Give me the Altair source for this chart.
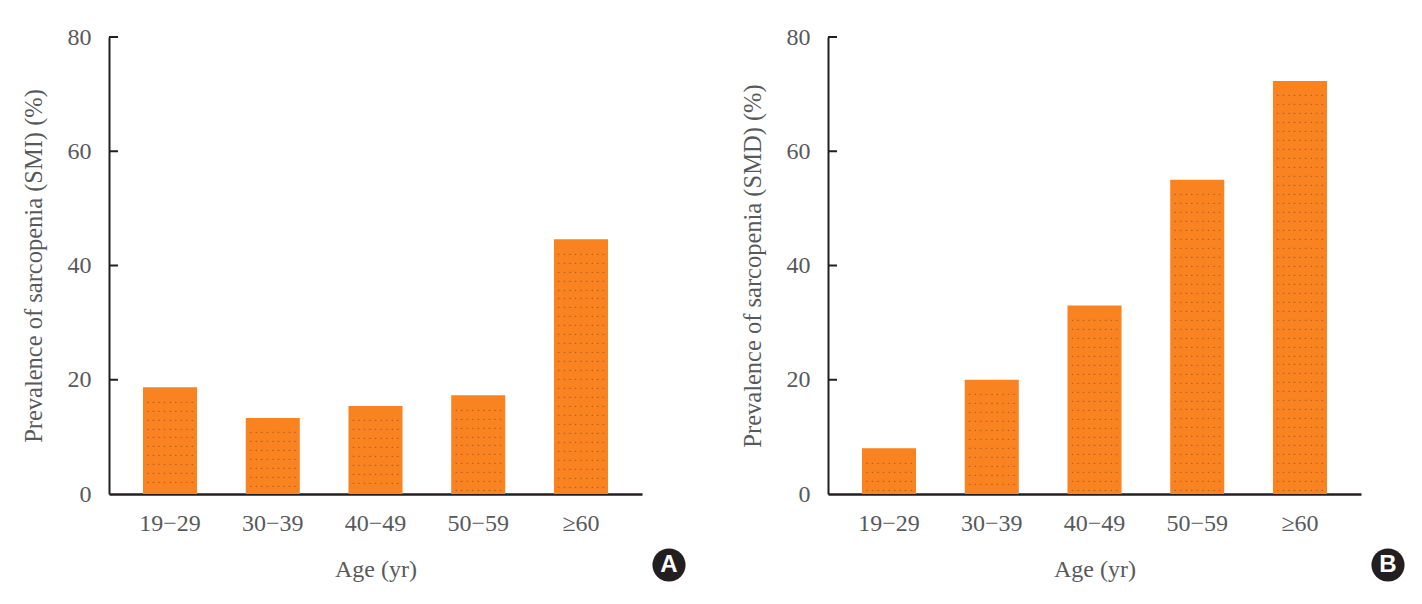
import altair as alt
import pandas as pd

ages = ["19−29", "30−39", "40−49", "50−59", "≥60"]
smi = [18.7, 13.3, 15.4, 17.3, 44.6]
smd = [8.0, 20.0, 33.0, 55.0, 72.3]
y_ticks = [0, 20, 40, 60, 80]
FONT = "Liberation Serif"
TXT = "#58595b"
ORANGE = "#f98321"
DOT_ROW = " ".join(["."] * 9)
W, H = 533, 457


def panel(values, ytitle, letter):
    df = pd.DataFrame({"age": ages, "v": values})
    x = alt.X("age:N", sort=ages, title="Age (yr)",
              scale=alt.Scale(paddingInner=0.474, paddingOuter=0.331),
              axis=alt.Axis(labelAngle=0, ticks=False, domainColor="#231f20", domainWidth=2.5,
                            labelFont=FONT, labelFontSize=24, labelColor=TXT, labelPadding=17,
                            titleFont=FONT, titleFontSize=24, titleColor=TXT, titleFontWeight="normal",
                            titlePadding=22))
    y = alt.Y("v:Q", title=ytitle, scale=alt.Scale(domain=[0, 80]),
              axis=alt.Axis(values=y_ticks, ticks=False, grid=False, domainColor="#231f20", domainWidth=2,
                            labelFont=FONT, labelFontSize=24, labelColor=TXT, labelPadding=18,
                            titleFont=FONT, titleFontSize=24.5, titleColor=TXT, titleFontWeight="normal",
                            titlePadding=21))
    bars = alt.Chart(df).mark_bar(color=ORANGE).encode(x=x, y=y)
    stip = pd.DataFrame([
        {"age": a, "s": s, "d": DOT_ROW}
        for a, v in zip(ages, values)
        for s in [v - 2.7 - 1.57 * i for i in range(60) if v - 2.7 - 1.57 * i > 0.3]
    ])
    dots = alt.Chart(stip).mark_text(font="Liberation Sans", fontSize=10, color="#8f3f2a", opacity=0.8,
                                     baseline="alphabetic").encode(
        x=alt.X("age:N", sort=ages), y=alt.Y("s:Q"), text="d:N")
    tk = alt.Chart(pd.DataFrame({"t": y_ticks[1:]})).mark_rule(color="#231f20", strokeWidth=2).encode(
        x=alt.value(0), x2=alt.value(9), y=alt.Y("t:Q"))
    badge = alt.Chart(pd.DataFrame({"l": [letter]})).mark_point(
        filled=True, size=1100, color="#231f20", opacity=1, clip=False).encode(
        x=alt.value(560), y=alt.value(528))
    lab = alt.Chart(pd.DataFrame({"l": [letter]})).mark_text(
        font="Liberation Sans", fontWeight="bold", fontSize=24, color="white", clip=False).encode(
        x=alt.value(560), y=alt.value(528), text="l:N")
    return alt.layer(bars, dots, tk, badge, lab).properties(width=W, height=H)


chart = alt.hconcat(
    panel(smi, "Prevalence of sarcopenia (SMI) (%)", "A"),
    panel(smd, "Prevalence of sarcopenia (SMD) (%)", "B"),
    spacing=54,
).properties(
    background="white",
    padding={"left": 13, "top": 17, "right": 5, "bottom": 5},
).configure_view(stroke=None)
chart.save("out.html", embed_options={"renderer": "svg", "actions": False})
